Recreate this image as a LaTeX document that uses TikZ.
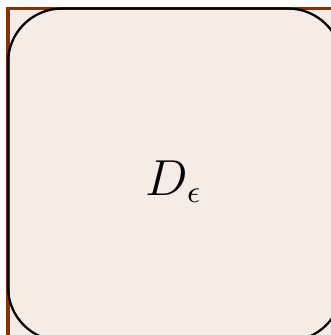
\documentclass[tikz,border=0pt]{standalone}
\definecolor{domFill}{RGB}{245,236,230}
\definecolor{domEdge}{RGB}{135,48,10}
\begin{document}
\begin{tikzpicture}[x=0.01cm,y=-0.01cm,
 framebox/.style={draw=domEdge,fill=domFill,line width=1pt},
 regionbox/.style={draw=black,rounded corners=0.54cm,line width=0.65pt}]
\useasboundingbox (0,0) rectangle (331,335);
\clip (0,0) rectangle (331,335);
\coordinate (nw) at (8,8.5);
\coordinate (se) at (342,341);
\draw[framebox] (nw) rectangle (se);
\draw[regionbox] (nw) rectangle (se);
\node[font=\fontsize{13.3}{16}\selectfont] (lbl) at (174,181.5) {$D_\epsilon$};
\end{tikzpicture}
\end{document}
